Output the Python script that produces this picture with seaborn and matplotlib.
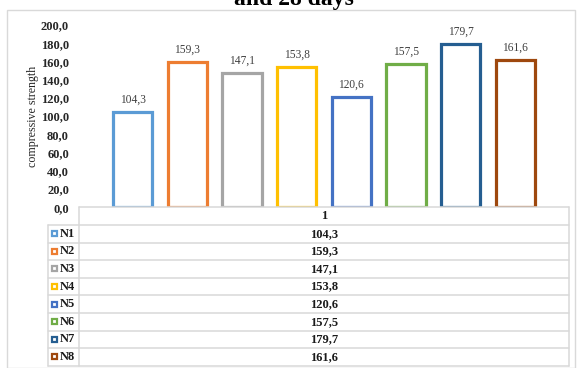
import matplotlib
matplotlib.use("Agg")
import matplotlib.pyplot as plt
from matplotlib.lines import Line2D
from matplotlib.patches import Rectangle
import seaborn as sns
import pandas as pd

# ---- data ----
categories = ["N1", "N2", "N3", "N4", "N5", "N6", "N7", "N8"]
values = [104.3, 159.3, 147.1, 153.8, 120.6, 157.5, 179.7, 161.6]
colors = ["#5B9BD5", "#ED7D31", "#A5A5A5", "#FFC000", "#4472C4", "#70AD47", "#255E91", "#9E480E"]
yticks = [0, 20, 40, 60, 80, 100, 120, 140, 160, 180, 200]
ytick_labels = ["0,0", "20,0", "40,0", "60,0", "80,0", "100,0", "120,0", "140,0", "160,0", "180,0", "200,0"]
title = "and 28 days"
ylabel = "compressive strength"
group_label = "1"

sns.set_theme(style="white")
plt.rcParams['font.family'] = ['Liberation Serif', 'DejaVu Serif']

W, H = 577, 368
fig = plt.figure(figsize=(W / 100, H / 100), dpi=100)
fig.patch.set_facecolor("white")

def fx(x):
    return x / W

def fy(y):
    return 1 - y / H

# outer frame
fig.add_artist(Rectangle((fx(7), fy(367.5)), fx(575) - fx(7), fy(10) - fy(367.5),
                         transform=fig.transFigure, fill=False, edgecolor="#D9D9D9", lw=1.0))

# plot axes
left, right, top, bottom = 79.3, 568.7, 25.0, 207.3
ax = fig.add_axes([fx(left), fy(bottom), fx(right) - fx(left), fy(top) - fy(bottom)])
df = pd.DataFrame({"cat": categories, "val": values})
sns.barplot(data=df, x="cat", y="val", hue="cat", palette=colors, fill=False,
            width=0.72, linewidth=2.3, legend=False, ax=ax, errorbar=None)
for p in ax.patches:
    p.set_joinstyle("miter")
    p.set_capstyle("projecting")
ax.set_xlim(-0.98, 7.98)
ax.set_ylim(0, 200)
ax.set_yticks(yticks)
ax.set_yticklabels(ytick_labels, fontsize=9, fontweight="bold", color="#262626")
ax.tick_params(axis="y", length=0, pad=7.5)
ax.set_xticks([])
ax.set_xlabel("")
ax.set_ylabel("")
fig.text(fx(33), fy(116), ylabel, rotation=90, ha="center", va="center",
         fontsize=8.6, color="#262626")
for s in ax.spines.values():
    s.set_visible(False)
ax.set_facecolor("none")
for i, v in enumerate(values):
    ax.annotate(f"{v:.1f}".replace(".", ","), (i, v), xytext=(0, 4.5), textcoords="offset points",
                ha="center", va="bottom", fontsize=8.3, color="#404040")

# title (partly cut at the top)
fig.text(fx(294), fy(5), title, ha="center", va="baseline", fontsize=17, fontweight="bold", color="black")

# data table
gc = "#D9D9D9"
glw = 1.1
row_h = (365.7 - 207.3) / 9
x_leg = 47.7
rows_y = [207.3 + k * row_h for k in range(10)]

def hline(x0, x1, y):
    fig.add_artist(Line2D([fx(x0), fx(x1)], [fy(y), fy(y)], transform=fig.transFigure, color=gc, lw=glw))

def vline(x, y0, y1):
    fig.add_artist(Line2D([fx(x), fx(x)], [fy(y0), fy(y1)], transform=fig.transFigure, color=gc, lw=glw))

hline(left, right, rows_y[0])
for k in range(1, 10):
    hline(x_leg, right, rows_y[k])
vline(left, rows_y[0], rows_y[9])
vline(right, rows_y[0], rows_y[9])
vline(x_leg, rows_y[1], rows_y[9])

cx = (left + right) / 2
fig.text(fx(cx), fy((rows_y[0] + rows_y[1]) / 2), group_label, ha="center", va="center",
         fontsize=9, fontweight="bold", color="#1a1a1a")
for i, (c, v, col) in enumerate(zip(categories, values, colors)):
    yc = (rows_y[i + 1] + rows_y[i + 2]) / 2
    fig.text(fx(cx), fy(yc), f"{v:.1f}".replace(".", ","), ha="center", va="center",
             fontsize=9, fontweight="bold", color="#1a1a1a")
    s = 5.0
    fig.add_artist(Rectangle((fx(54 - s / 2), fy(yc + s / 2)), fx(s), fy(0) - fy(s),
                             transform=fig.transFigure, facecolor="white", edgecolor=col, lw=1.6))
    fig.text(fx(59.5), fy(yc), c, ha="left", va="center", fontsize=9, fontweight="bold", color="#1a1a1a")

fig.savefig("out.png", dpi=100, facecolor="white")
